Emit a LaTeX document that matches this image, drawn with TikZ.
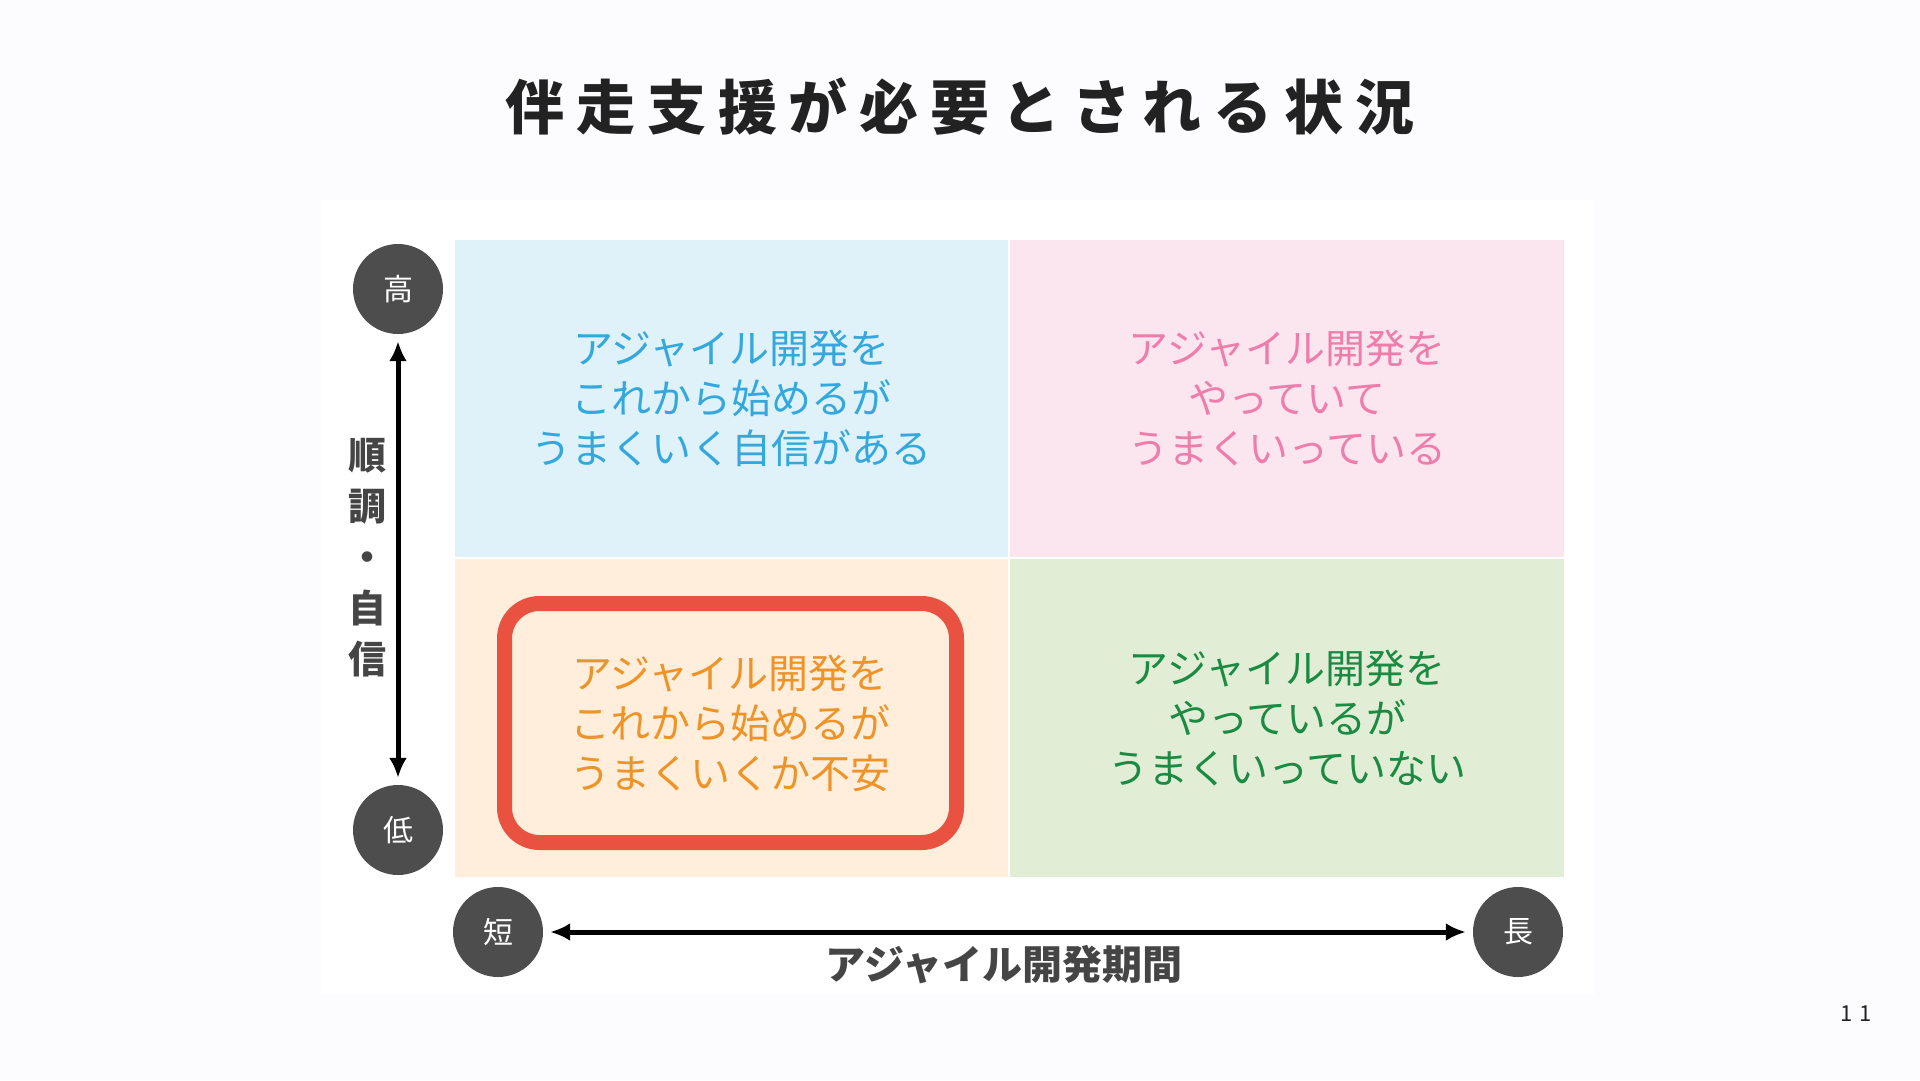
\documentclass[tikz,border=0pt]{standalone}
\usepackage{fontspec}
\usetikzlibrary{arrows.meta}
\setmainfont{Noto Sans CJK JP}
\newfontfamily\jp{Noto Sans CJK JP}
\newfontfamily\titlefont[LetterSpace=20]{Noto Sans CJK JP}
\newfontfamily\numfont[LetterSpace=30]{Noto Sans CJK JP}
\definecolor{pagebg}{HTML}{FCFCFE}
\definecolor{qblue}{HTML}{DFF1F9}
\definecolor{tblue}{HTML}{34A8DC}
\definecolor{qpink}{HTML}{FBE6F0}
\definecolor{tpink}{HTML}{EF7DAB}
\definecolor{qcream}{HTML}{FEEEDB}
\definecolor{tcream}{HTML}{EE9328}
\definecolor{qgreen}{HTML}{E2EDD6}
\definecolor{tgreen}{HTML}{1B8A43}
\definecolor{focusred}{HTML}{E95241}
\definecolor{dotgray}{HTML}{4D4D4D}
\definecolor{labgray}{HTML}{454545}
\definecolor{titlegray}{HTML}{222222}
\begin{document}
\begin{tikzpicture}[x=1pt,y=-1pt,
  quad/.style={draw=white,line width=1.5pt,minimum width=555pt,minimum height=319pt,
    align=center,inner sep=0pt,font=\jp\fontsize{40}{50}\selectfont},
  focusbox/.style={draw=focusred,line width=15pt,rounded corners=35pt,
    minimum width=452pt,minimum height=239pt,inner sep=0pt},
  dot/.style={circle,fill=dotgray,text=white,minimum size=90pt,inner sep=0pt,
    font=\jp\fontsize{30}{30}\selectfont},
  axarrow/.style={{Latex[length=20pt,width=18pt]}-{Latex[length=20pt,width=18pt]},
    line width=5pt,shorten <=7pt,shorten >=7pt},
  axlab/.style={text=labgray,align=center,inner sep=0pt,font=\jp\bfseries\fontsize{38}{51}\selectfont}]
\useasboundingbox (0,0) rectangle (1920,1080);
\fill[pagebg] (0,0) rectangle (1920,1080);
\fill[white] (321,200) rectangle (1594,994);
% title
\node[text=titlegray,font=\titlefont\bfseries\fontsize{59}{59}\selectfont] (title) at (960,107) {伴走支援が必要とされる状況};
% quadrants
\node[quad,fill=qblue,text=tblue] (tl) at (731.5,398.5) {アジャイル開発を\\これから始めるが\\うまくいく自信がある};
\node[quad,fill=qpink,text=tpink] (tr) at (1287,398.5) {アジャイル開発を\\やっていて\\うまくいっている};
\node[quad,fill=qcream,minimum height=320pt] (bl) at (731.5,718) {};
\node[quad,fill=qgreen,text=tgreen,minimum height=320pt] (br) at (1287,718) {アジャイル開発を\\やっているが\\うまくいっていない};
\node[focusbox,text=tcream,align=center,font=\jp\fontsize{40}{50}\selectfont] (focus) at (730.5,723) {アジャイル開発を\\これから始めるが\\うまくいくか不安};
% axes
\node[dot] (hi) at (398,289) {高};
\node[dot] (lo) at (398,830) {低};
\node[dot] (short) at (498,932) {短};
\node[dot] (long) at (1518,932) {長};
\draw[axarrow] (hi) -- (lo);
\draw[axarrow] (short) -- (long);
\node[axlab] (vlab) at (367,558) {順\\調\\・\\自\\信};
\node[axlab,font=\jp\bfseries\fontsize{40}{40}\selectfont] (hlab) at (1004,965) {アジャイル開発期間};
\node[text=titlegray,font=\numfont\fontsize{22}{22}\selectfont] (page) at (1856,1014) {11};
\end{tikzpicture}
\end{document}
